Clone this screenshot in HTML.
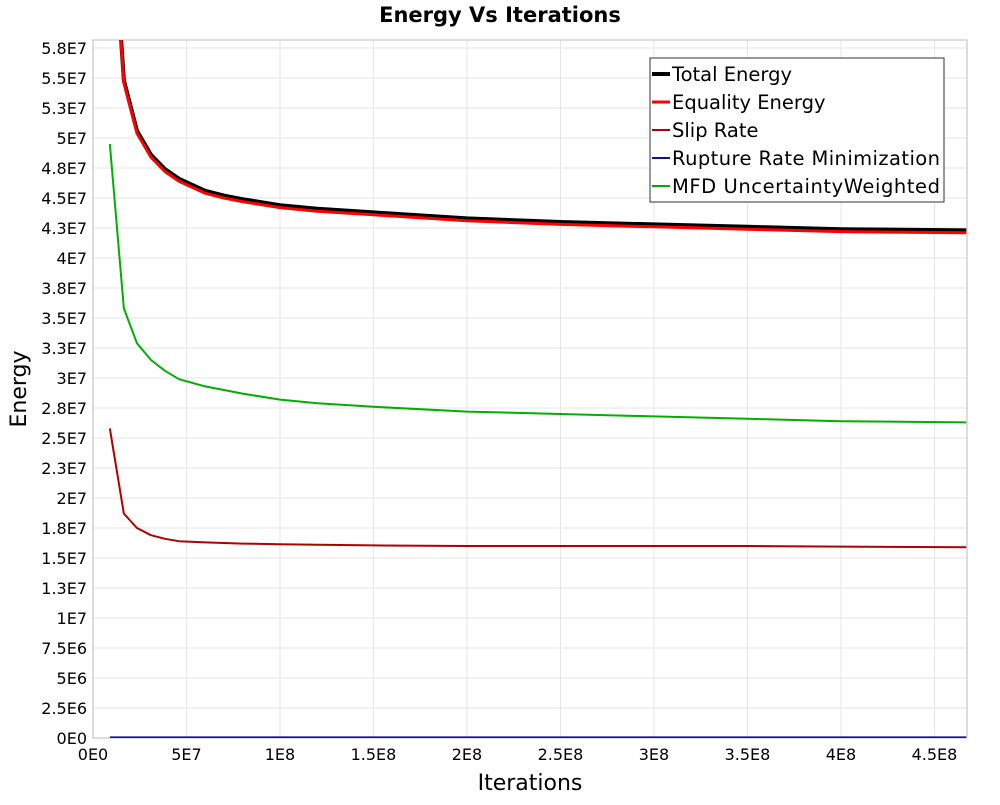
<!DOCTYPE html>
<html><head><meta charset="utf-8"><style>
body{margin:0;background:#fff;font-family:"Liberation Sans","DejaVu Sans",sans-serif}
</style></head><body>
<svg id="chart" width="1000" height="800" xmlns="http://www.w3.org/2000/svg" font-family="DejaVu Sans, Liberation Sans, sans-serif">
<text x="500" y="22" text-anchor="middle" font-size="21" font-weight="bold">Energy Vs Iterations</text>
<g id="grid"></g>
<rect x="93" y="40" width="874" height="698" fill="none" stroke="#bbb"/>
<g id="series"></g>
<g id="axes"></g>
<text transform="translate(26,389) rotate(-90)" text-anchor="middle" font-size="22">Energy</text>
<text x="530" y="790" text-anchor="middle" font-size="22">Iterations</text>
<g>
<rect x="650" y="58" width="294" height="144" fill="#fff" stroke="#333"/>
<g id="legend"></g>
</g>
</svg>
<script>
const iterations=[9e6,1.65e7,2.35e7,3.1e7,3.85e7,4.6e7,6e7,7e7,8e7,1e8,1.2e8,1.5e8,2e8,2.5e8,3e8,3.5e8,4e8,4.67e8];
const totalEnergy=[7.2e7,5.48e7,5.06e7,4.86e7,4.74e7,4.66e7,4.56e7,4.52e7,4.49e7,4.44e7,4.41e7,4.38e7,4.33e7,4.3e7,4.28e7,4.26e7,4.24e7,4.23e7];
const equalityEnergy=[7.15e7,5.46e7,5.04e7,4.84e7,4.72e7,4.64e7,4.54e7,4.5e7,4.47e7,4.42e7,4.39e7,4.36e7,4.31e7,4.28e7,4.26e7,4.24e7,4.22e7,4.21e7];
const slipRate=[2.58e7,1.87e7,1.75e7,1.69e7,1.66e7,1.64e7,1.63e7,1.625e7,1.62e7,1.615e7,1.61e7,1.605e7,1.6e7,1.6e7,1.6e7,1.6e7,1.595e7,1.59e7];
const ruptureRate=[5e4,5e4,5e4,5e4,5e4,5e4,5e4,5e4,5e4,5e4,5e4,5e4,5e4,5e4,5e4,5e4,5e4,5e4];
const mfd=[4.95e7,3.58e7,3.29e7,3.15e7,3.06e7,2.99e7,2.93e7,2.9e7,2.87e7,2.82e7,2.79e7,2.76e7,2.72e7,2.7e7,2.68e7,2.66e7,2.64e7,2.63e7];
const yTicks=["0E0","2.5E6","5E6","7.5E6","1E7","1.3E7","1.5E7","1.8E7","2E7","2.3E7","2.5E7","2.8E7","3E7","3.3E7","3.5E7","3.8E7","4E7","4.3E7","4.5E7","4.8E7","5E7","5.3E7","5.5E7","5.8E7"];
const xTicks=["0E0","5E7","1E8","1.5E8","2E8","2.5E8","3E8","3.5E8","4E8","4.5E8"];
const L=93,R=967,T=40,B=738,XMAX=4.674e8,YMAX=5.8167e7;
const NS="http://www.w3.org/2000/svg";
const sx=v=>L+v/XMAX*(R-L), sy=v=>B-v/YMAX*(B-T);
function mk(t,a,p){const e=document.createElementNS(NS,t);for(const k in a)e.setAttribute(k,a[k]);p.appendChild(e);return e;}
const grid=document.getElementById('grid'),axes=document.getElementById('axes');
yTicks.forEach((lab,i)=>{const y=sy(i*2.5e6);
 const g=mk('line',{x1:L,x2:R,y1:y,y2:y,stroke:'#e6e6e6'},grid);
 
 const t=mk('text',{x:L-6,y:y+6,'text-anchor':'end','font-size':'16'},axes);t.textContent=lab;
 });
xTicks.forEach((lab,i)=>{const x=sx(i*5e7);
 const g=mk('line',{x1:x,x2:x,y1:T,y2:B,stroke:'#e6e6e6'},grid);
 
 const t=mk('text',{x:x,y:B+22,'text-anchor':'middle','font-size':'16'},axes);t.textContent=lab;
 });
const defs=mk('defs',{},document.getElementById('chart'));
const cp=mk('clipPath',{id:'clip'},defs);mk('rect',{x:L,y:T,width:R-L,height:B-T},cp);
const sg=document.getElementById('series');sg.setAttribute('clip-path','url(#clip)');
const series=[["Total Energy",totalEnergy,"#000",4,"total-energy-line"],["Equality Energy",equalityEnergy,"#f00",3,"equality-energy-line"],["Slip Rate",slipRate,"#b00000",2,"slip-rate-line"],["Rupture Rate Minimization",ruptureRate,"#1010a0",2,"rupture-rate-line"],["MFD UncertaintyWeighted",mfd,"#00b000",2,"mfd-line"]];
series.forEach(s=>{const pts=iterations.map((x,i)=>sx(x)+','+sy(s[1][i])).join(' ');
 const p=mk('polyline',{points:pts,fill:'none',stroke:s[2],'stroke-width':s[3],'stroke-linejoin':'round'},sg);
 });
const lg=document.getElementById('legend');
series.forEach((s,i)=>{const y=74+i*28;
 const l=mk('line',{x1:652,x2:670,y1:y,y2:y,stroke:s[2],'stroke-width':s[3]},lg);
 
 const t=mk('text',{x:672,y:y+7,'font-size':'19.5',textLength:(s[0].length>20?268:null)},lg);t.textContent=s[0];
 if(!t.getAttribute('textLength')||t.getAttribute('textLength')==='null')t.removeAttribute('textLength');
 });
</script>
</body></html>
